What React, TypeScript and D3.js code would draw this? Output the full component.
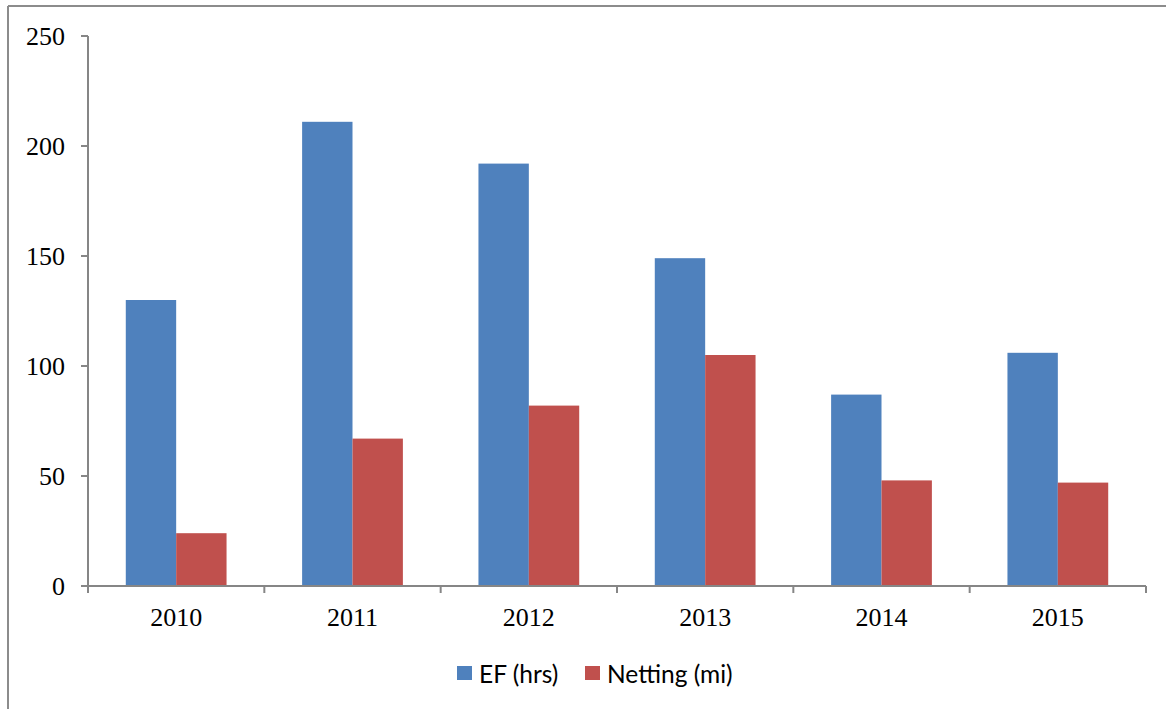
import React from "react";
import * as d3 from "d3";

const categories = ["2010", "2011", "2012", "2013", "2014", "2015"];
const seriesNames = ["EF (hrs)", "Netting (mi)"];
const efValues = [130, 211, 192, 149, 87, 106];
const nettingValues = [24, 67, 82, 105, 48, 47];
const yTicks = [0, 50, 100, 150, 200, 250];
const colors = ["#4F81BD", "#C0504D"];

const W = 1166;
const H = 709;
const left = 88;
const right = 1146;
const top = 36;
const bottom = 586;

export default function App() {
  const x = d3.scaleBand<string>().domain(categories).range([left, right]).paddingInner(0).paddingOuter(0);
  const inner = d3
    .scaleBand<string>()
    .domain(seriesNames)
    .range([0, x.bandwidth()])
    .paddingInner(0)
    .paddingOuter(0.75);
  const y = d3.scaleLinear().domain([0, 250]).range([bottom, top]);
  const series = [efValues, nettingValues];
  const axisColor = "#868686";
  const serif = "'Liberation Serif', 'Times New Roman', serif";
  const legendFont = "Lato, 'Open Sans', sans-serif";

  const boundaries = categories.map((c) => x(c) as number).concat([right]);

  return (
    <svg
      width={W}
      height={H}
      style={{ position: "absolute", left: 0, top: 0, background: "#fff" }}
    >
      {/* outer frame */}
      <line x1={8} y1={6} x2={W} y2={6} stroke="#8c8c8c" strokeWidth={2} />
      <line x1={8} y1={6} x2={8} y2={H} stroke="#8c8c8c" strokeWidth={2} />

      {/* bars */}
      {series.map((vals, si) =>
        vals.map((v, i) => (
          <rect
            key={`${si}-${i}`}
            x={(x(categories[i]) as number) + (inner(seriesNames[si]) as number)}
            y={y(v)}
            width={inner.bandwidth()}
            height={bottom - y(v)}
            fill={colors[si]}
          />
        ))
      )}

      {/* y axis */}
      <line x1={left} y1={top} x2={left} y2={bottom} stroke={axisColor} strokeWidth={2} />
      {yTicks.map((t) => (
        <g key={t}>
          <line x1={left - 7} x2={left} y1={y(t)} y2={y(t)} stroke={axisColor} strokeWidth={2} />
          <text
            x={65}
            y={y(t)}
            textAnchor="end"
            dominantBaseline="central"
            fontFamily={serif}
            fontSize={26}
            fill="#000"
          >
            {t}
          </text>
        </g>
      ))}

      {/* x axis */}
      <line x1={left} y1={bottom} x2={right} y2={bottom} stroke={axisColor} strokeWidth={2} />
      {boundaries.map((b, i) => (
        <line key={i} x1={b} x2={b} y1={bottom} y2={bottom + 7} stroke={axisColor} strokeWidth={2} />
      ))}
      {categories.map((c) => (
        <text
          key={c}
          x={(x(c) as number) + x.bandwidth() / 2}
          y={617}
          textAnchor="middle"
          dominantBaseline="central"
          fontFamily={serif}
          fontSize={26}
          fill="#000"
        >
          {c}
        </text>
      ))}

      {/* legend */}
      {seriesNames.map((s, i) => {
        const lx = i === 0 ? 457 : 585;
        return (
          <g key={s}>
            <rect x={lx} y={666} width={15} height={14} fill={colors[i]} />
            <text
              x={lx + 22}
              y={673}
              dominantBaseline="central"
              fontFamily={legendFont}
              fontSize={24.5}
              fill="#000"
            >
              {s}
            </text>
          </g>
        );
      })}
    </svg>
  );
}
